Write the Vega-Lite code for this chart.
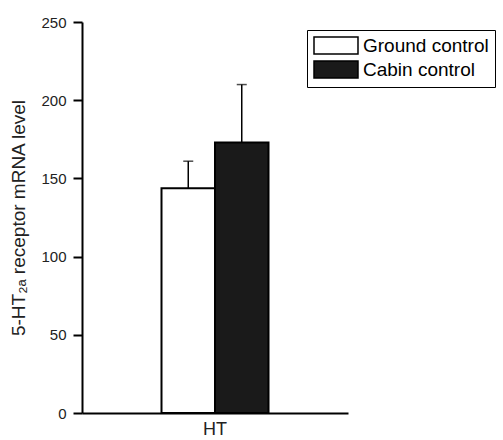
{
  "$schema": "https://vega.github.io/schema/vega-lite/v6.json",
  "width": 266,
  "height": 391,
  "autosize": {"type": "none"},
  "padding": {"left": 82, "top": 22, "right": 155, "bottom": 27},
  "background": "white",
  "config": {"view": {"stroke": null}, "font": "Liberation Sans"},
  "data": {"values": [
    {"region": "HT", "group": "Ground control", "value": 143.7, "upper": 161},
    {"region": "HT", "group": "Cabin control", "value": 173, "upper": 210}
  ]},
  "encoding": {
    "x": {
      "field": "region", "type": "nominal",
      "scale": {"paddingOuter": 0.743, "paddingInner": 0},
      "axis": {"title": null, "labelAngle": 0, "ticks": false, "domainColor": "black", "domainWidth": 2, "labelFontSize": 18, "labelColor": "#222", "labelPadding": 7}
    },
    "xOffset": {"field": "group", "type": "nominal", "sort": ["Ground control", "Cabin control"], "scale": {"paddingInner": 0, "paddingOuter": 0}}
  },
  "layer": [
    {
      "mark": {"type": "bar", "stroke": "black", "strokeWidth": 2},
      "encoding": {
        "y": {
          "field": "value", "type": "quantitative",
          "scale": {"domain": [0, 250], "nice": false},
          "axis": {
            "title": "5-HT₂ₐ receptor mRNA level",
            "values": [0, 25, 50, 75, 100, 125, 150, 175, 200, 225, 250],
            "labelExpr": "datum.value % 50 === 0 ? datum.label : ''",
            "grid": false,
            "domainColor": "black", "domainWidth": 2,
            "tickColor": "black", "tickWidth": 2,
            "tickSize": {"condition": {"test": "datum.value % 50 === 0", "value": 9}, "value": 3},
            "labelFontSize": 15, "labelColor": "#222", "labelPadding": 7,
            "titleFontSize": 19, "titleFontWeight": "normal", "titleColor": "#222", "titlePadding": 12
          }
        },
        "fill": {
          "field": "group", "type": "nominal",
          "scale": {"domain": ["Ground control", "Cabin control"], "range": ["white", "#1a1a1a"]},
          "legend": {
            "title": null, "orient": "none", "legendX": 225, "legendY": 8,
            "symbolType": "M-1,-1H4.176V1H-1Z", "symbolSize": 289,
            "symbolStrokeColor": "black", "symbolStrokeWidth": 1.5, "symbolOpacity": 1,
            "labelFont": "Liberation Sans", "labelFontSize": 19, "labelColor": "black", "labelOffset": 31,
            "strokeColor": "black", "fillColor": "white", "padding": 6, "rowPadding": 1
          }
        }
      }
    },
    {
      "mark": {"type": "rule", "color": "black", "strokeWidth": 1.5},
      "encoding": {
        "y": {"field": "value", "type": "quantitative"},
        "y2": {"field": "upper"}
      }
    },
    {
      "mark": {"type": "tick", "color": "black", "thickness": 1.5, "size": 10},
      "encoding": {
        "y": {"field": "upper", "type": "quantitative"}
      }
    }
  ]
}
